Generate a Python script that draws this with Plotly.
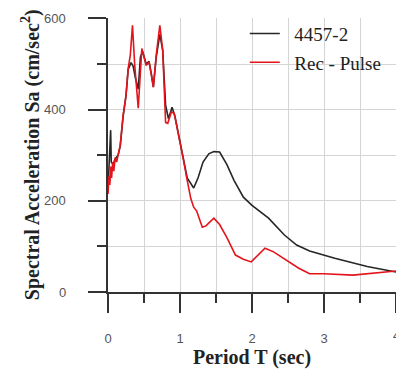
import plotly.graph_objects as go

# 4457-2 (black)
t_black = [0.0, 0.015, 0.03, 0.037, 0.045, 0.07, 0.1, 0.14, 0.17, 0.21, 0.25, 0.28, 0.32, 0.35,
           0.38, 0.42, 0.45, 0.48, 0.53, 0.57, 0.6, 0.63, 0.67, 0.72, 0.76, 0.8, 0.84, 0.89, 0.93,
           0.97, 1.0, 1.05, 1.1, 1.19, 1.25, 1.32, 1.4, 1.47, 1.55, 1.65, 1.75, 1.88, 2.0, 2.23,
           2.45, 2.62, 2.8, 3.15, 3.6, 4.0]
sa_black = [225, 280, 340, 355, 285, 280, 292, 300, 320, 385, 430, 488, 503, 495,
            470, 445, 515, 528, 500, 506, 480, 450, 515, 565, 530, 410, 380, 405, 385,
            352, 335, 290, 250, 228, 250, 285, 303, 308, 307, 280, 245, 208, 190, 162,
            125, 103, 90, 74, 56, 44]

# Rec - Pulse (red)
t_red = [0.0, 0.015, 0.025, 0.04, 0.05, 0.065, 0.08, 0.1, 0.12, 0.15, 0.17, 0.21, 0.25, 0.28,
         0.31, 0.34, 0.37, 0.42, 0.45, 0.47, 0.53, 0.57, 0.6, 0.63, 0.67, 0.72, 0.76, 0.8, 0.83,
         0.88, 0.92, 0.97, 1.0, 1.05, 1.1, 1.15, 1.19, 1.23, 1.27, 1.31, 1.36, 1.42, 1.47, 1.55,
         1.65, 1.77, 1.88, 1.99, 2.08, 2.18, 2.3, 2.48, 2.65, 2.8, 3.0, 3.4, 3.7, 4.0]
sa_red = [215, 255, 235, 275, 250, 285, 265, 295, 285, 305, 322, 388, 431, 490,
          520, 585, 500, 403, 500, 534, 497, 504, 478, 449, 520, 585, 530, 372, 370,
          395, 392, 352, 335, 288, 245, 205, 186, 178, 160, 142, 145, 155, 162, 148,
          120, 81, 72, 66, 80, 96, 88, 70, 52, 40, 40, 37, 41, 46]

x_ticks = [0, 1, 2, 3, 4]
y_ticks = [0, 200, 400, 600]

tickfont = dict(family="Liberation Sans", size=13, color="#555")
serif_bold = dict(family="Liberation Serif", size=20, color="#222")

fig = go.Figure()
fig.add_trace(go.Scatter(x=t_black, y=sa_black, mode="lines", name="\u00a0\u00a04457-2",
                         line=dict(color="#262626", width=1.6), legendgroup="a"))
fig.add_trace(go.Scatter(x=t_red, y=sa_red, mode="lines", name="\u00a0\u00a0Rec - Pulse",
                         line=dict(color="#e3141c", width=1.6), legendgroup="b"))

# last x tick label sits on the right edge and is partly cut off in the reference
fig.add_annotation(x=x_ticks[-1], xref="x", y=-0.158, yref="paper", text=str(x_ticks[-1]),
                   showarrow=False, font=tickfont, xanchor="center", yanchor="middle")
# y tick labels, placed further from the axis than plotly's default
for v in y_ticks:
    fig.add_annotation(x=-0.139, xref="paper", y=v, yref="y", text=str(v),
                       showarrow=False, font=tickfont, xanchor="right", yanchor="middle")
# y-axis title
fig.add_annotation(x=-0.27, xref="paper", y=0.5, yref="paper", textangle=-90,
                   text="<b>Spectral Acceleration Sa (cm/sec<sup>2</sup>)</b>",
                   showarrow=False, font=serif_bold, xanchor="center", yanchor="middle")

fig.update_layout(
    width=396, height=371,
    margin=dict(l=108, r=0, t=18, b=79, autoexpand=False),
    paper_bgcolor="white", plot_bgcolor="white",
    showlegend=True,
    legend=dict(x=0.475, y=1.012, xanchor="left", yanchor="top",
                font=dict(family="Liberation Serif", size=19, color="#222"),
                bgcolor="rgba(0,0,0,0)", tracegroupgap=1),
    xaxis=dict(range=[0, 4], tickvals=x_ticks, ticktext=[str(v) for v in x_ticks],
               automargin=False,
               showgrid=True, gridcolor="#d4d4d4", gridwidth=1,
               showline=True, linecolor="#333", linewidth=2,
               ticks="outside", ticklen=19, tickwidth=2, tickcolor="#333",
               minor=dict(dtick=0.5, showgrid=True, gridcolor="#d4d4d4", gridwidth=1,
                          ticks="outside", ticklen=9, tickwidth=2, tickcolor="#333"),
               tickfont=tickfont,
               ticklabelstandoff=14,
               zeroline=False,
               title=dict(text="<b>Period T (sec)</b>", standoff=2, font=serif_bold)),
    yaxis=dict(range=[0, 601], tickvals=y_ticks, showticklabels=False,
               automargin=False,
               showgrid=True, gridcolor="#d4d4d4", gridwidth=1,
               showline=True, linecolor="#333", linewidth=2,
               ticks="outside", ticklen=18, tickwidth=2, tickcolor="#333",
               minor=dict(dtick=100, showgrid=True, gridcolor="#d4d4d4", gridwidth=1,
                          ticks="outside", ticklen=9, tickwidth=2, tickcolor="#333"),
               zeroline=False),
)

fig.write_html("out.html", config={"displayModeBar": False},
               post_script="document.body.style.margin='0';document.body.style.overflow='hidden';")
